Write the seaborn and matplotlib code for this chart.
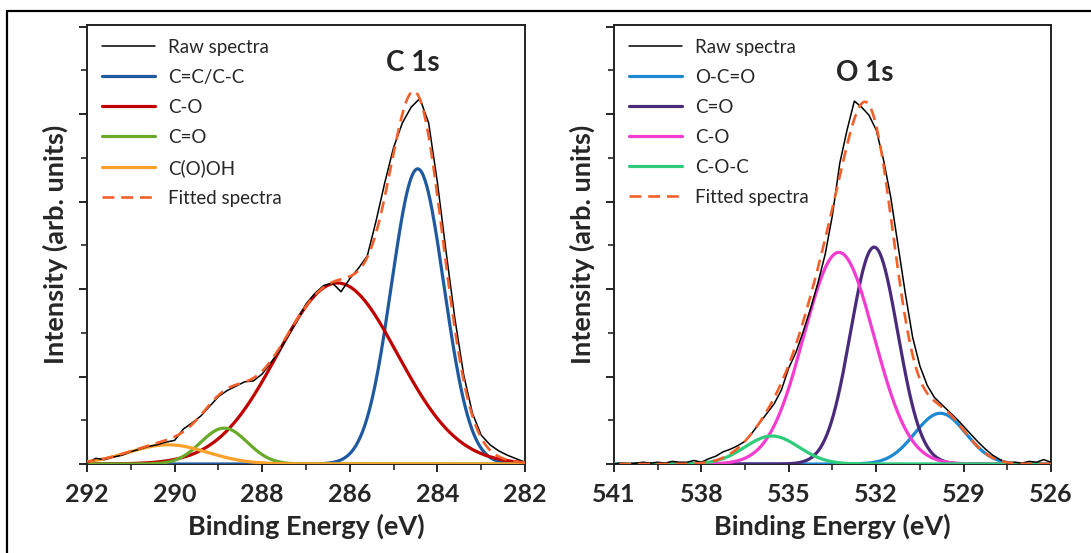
import numpy as np
import matplotlib.pyplot as plt
import seaborn as sns
from matplotlib.lines import Line2D

# C 1s: raw spectrum and fitted peak parameters
c1s_be = np.linspace(292, 282, 51)
c1s_raw = [0.01, 0.065, 0.05, 0.08, 0.10, 0.14, 0.17, 0.20, 0.22, 0.25,
           0.27, 0.40, 0.47, 0.55, 0.66, 0.77, 0.84, 0.89, 0.94, 0.95,
           1.03, 1.16, 1.30, 1.47, 1.64, 1.83, 1.95, 2.04, 2.07, 1.97,
           2.12, 2.24, 2.38, 2.78, 3.22, 3.62, 3.90, 4.08, 4.18, 3.90,
           3.22, 2.42, 1.66, 1.02, 0.58, 0.33, 0.22, 0.15, 0.10, 0.06,
           0.02]
c1s_labels = ["C=C/C-C", "C-O", "C=O", "C(O)OH"]
c1s_centers = [284.45, 286.28, 288.87, 290.15]
c1s_heights = [3.375, 2.07, 0.41, 0.22]
c1s_fwhm = [1.41, 3.23, 1.25, 2.12]
c1s_colors = ["#1F5AA0", "#C00000", "#6AAA2A", "#F9A02A"]
c1s_ticks = [292, 290, 288, 286, 284, 282]
c1s_minor = [291, 289, 287, 285, 283]

# O 1s
o1s_be = np.linspace(541, 526, 61)
o1s_raw = [0.00, 0.01, 0.00, 0.01, 0.02, 0.01, 0.02, 0.01, 0.03, 0.02,
           0.02, 0.04, 0.02, 0.06, 0.09, 0.14, 0.17, 0.21, 0.26, 0.36,
           0.47, 0.58, 0.69, 0.85, 1.10, 1.28, 1.52, 1.78, 2.07, 2.40,
           2.85, 3.44, 3.82, 4.15, 4.08, 3.99, 3.82, 3.48, 3.05, 2.50,
           1.95, 1.45, 1.12, 0.90, 0.76, 0.68, 0.60, 0.52, 0.43, 0.34,
           0.25, 0.17, 0.10, 0.05, 0.01, 0.02, 0.01, 0.03, 0.02, 0.05,
           0.02]
o1s_labels = ["O-C=O", "C=O", "C-O", "C-O-C"]
o1s_centers = [529.8, 532.07, 533.28, 535.58]
o1s_heights = [0.58, 2.48, 2.42, 0.32]
o1s_fwhm = [2.06, 1.91, 2.83, 2.18]
o1s_colors = ["#1E8AD2", "#4A2A7A", "#F43CD0", "#2ECC7A"]
o1s_ticks = [541, 538, 535, 532, 529, 526]
o1s_minor = [539.5, 536.5, 533.5, 530.5, 527.5]

fit_color = "#F4602A"

sns.set_style("ticks")
plt.rcParams['font.family'] = ['Lato', 'DejaVu Sans']


def peak(x, c, h, fwhm):
    s = fwhm / 2.3548
    return h * np.exp(-(x - c) ** 2 / (2 * s * s))


def draw_panel(ax, be, raw, labels, centers, heights, fwhms, colors,
               ticks, minor, title, title_xy):
    xlim = (ticks[0], ticks[-1])
    grid = np.linspace(xlim[0], xlim[1], 800)
    sns.lineplot(x=be, y=raw, ax=ax, color="black", lw=1.1,
                 label="Raw spectra", zorder=4)
    total = np.zeros_like(grid)
    for lab, c, h, w, col in zip(labels, centers, heights, fwhms, colors):
        comp = peak(grid, c, h, w)
        total += comp
        sns.lineplot(x=grid, y=comp, ax=ax, color=col, lw=2.3, label=lab, zorder=3)
    sns.lineplot(x=grid, y=total, ax=ax, color=fit_color, lw=1.9,
                 label="Fitted spectra", zorder=5, linestyle="--")
    ax.lines[-1].set_dashes([4.5, 2.6])

    ax.set_xlim(*xlim)
    ax.set_ylim(0, 5.02)
    ax.set_xticks(ticks)
    ax.set_xticklabels([str(t) for t in ticks], fontsize=18, fontweight="bold")
    ax.set_xticks(minor, minor=True)
    ax.set_yticks([0, 1, 2, 3, 4, 5])
    ax.set_yticks([0.5, 1.5, 2.5, 3.5, 4.5], minor=True)
    ax.set_yticklabels([])
    ax.tick_params(which="major", direction="out", length=6, width=1.4, pad=8)
    ax.tick_params(which="minor", direction="out", length=4, width=1.2)
    for sp in ax.spines.values():
        sp.set_visible(True)
        sp.set_linewidth(1.4)
        sp.set_color("#222222")
    ax.set_xlabel("Binding Energy (eV)", fontsize=19.5, fontweight="bold", labelpad=5)
    ax.set_ylabel("Intensity (arb. units)", fontsize=19.5, fontweight="bold", labelpad=0)
    ax.text(title_xy[0], title_xy[1], title, fontsize=20, fontweight="bold",
            ha="center", va="center")

    ax.legend(loc="upper left", bbox_to_anchor=(0.035, 0.968), frameon=False,
              fontsize=13.5, handlelength=2.8, handletextpad=0.7,
              labelspacing=0.69, borderaxespad=0, borderpad=0)


fig = plt.figure(figsize=(10.91, 5.53), dpi=100)
ax1 = fig.add_axes([87 / 1091, 1 - 464 / 553, 438 / 1091, 439 / 553])
ax2 = fig.add_axes([614 / 1091, 1 - 464 / 553, 437 / 1091, 439 / 553])

draw_panel(ax1, c1s_be, c1s_raw, c1s_labels, c1s_centers, c1s_heights, c1s_fwhm,
           c1s_colors, c1s_ticks, c1s_minor, "C 1s", (284.55, 4.58))
draw_panel(ax2, o1s_be, o1s_raw, o1s_labels, o1s_centers, o1s_heights, o1s_fwhm,
           o1s_colors, o1s_ticks, o1s_minor, "O 1s", (532.4, 4.47))

# outer frame (left and top edges)
fig.add_artist(Line2D([7 / 1091, 7 / 1091], [0, 1 - 11 / 553],
                      transform=fig.transFigure, color="black", lw=1.6))
fig.add_artist(Line2D([7 / 1091, 1], [1 - 11 / 553, 1 - 11 / 553],
                      transform=fig.transFigure, color="black", lw=1.6))

fig.savefig("out.png", dpi=100)
